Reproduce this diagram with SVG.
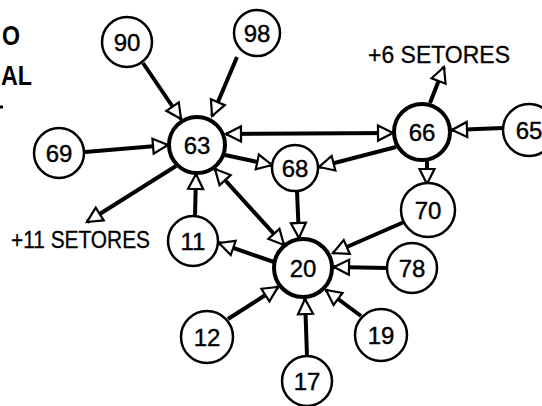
<svg xmlns="http://www.w3.org/2000/svg" width="542" height="406" viewBox="0 0 542 406">
<style>
  .n circle { fill: #fff; stroke: #000; stroke-width: 2.5; }
  .n.big circle { stroke-width: 4; }
  .n text { font-family: "Liberation Sans", Arial, sans-serif; font-size: 24px; text-anchor: middle; fill: #000; stroke: #000; stroke-width: 0.4; }
  .lbl { font-family: "Liberation Sans", Arial, sans-serif; font-size: 23px; fill: #000; stroke: #000; stroke-width: 0.3; }
  .cut { font-family: "Liberation Sans", Arial, sans-serif; font-size: 28px; font-weight: bold; fill: #000; }
  #edges line { stroke: #000; stroke-width: 4; stroke-linecap: butt; marker-end: url(#ah); }
  #edges line.bi { marker-start: url(#ahs); }
</style>
<defs>
  <marker id="ah" markerUnits="userSpaceOnUse" markerWidth="20" markerHeight="20" viewBox="-2 -2 20 20" refX="15" refY="7.5" orient="auto">
    <path d="M0,0 L15,7.5 L0,15 Z" fill="#fff" stroke="#000" stroke-width="2.2" stroke-linejoin="miter"/>
  </marker>
  <marker id="ahs" markerUnits="userSpaceOnUse" markerWidth="20" markerHeight="20" viewBox="-2 -2 20 20" refX="15" refY="7.5" orient="auto-start-reverse">
    <path d="M0,0 L15,7.5 L0,15 Z" fill="#fff" stroke="#000" stroke-width="2.2" stroke-linejoin="miter"/>
  </marker>
</defs>
<rect width="542" height="406" fill="#fff"/>

<!-- cut-off text at top left -->
<text class="cut" x="2" y="45" textLength="18" lengthAdjust="spacingAndGlyphs">O</text>
<text class="cut" x="1" y="85" textLength="31" lengthAdjust="spacingAndGlyphs">AL</text>
<line x1="0" y1="107" x2="3" y2="107" stroke="#000" stroke-width="3"/>

<g id="edges">
  <line x1="143" y1="63" x2="181" y2="119"/>
  <line x1="237" y1="57" x2="212" y2="116"/>
  <line x1="85" y1="152" x2="168" y2="145"/>
  <line class="bi" x1="226" y1="134" x2="393" y2="133"/>
  <line x1="225" y1="155" x2="272" y2="165"/>
  <line x1="396" y1="147" x2="319" y2="167"/>
  <line x1="176" y1="166" x2="87" y2="222"/>
  <line x1="195" y1="216" x2="196" y2="174"/>
  <line class="bi" x1="215" y1="169" x2="284" y2="245"/>
  <line x1="297" y1="191" x2="299" y2="238"/>
  <line x1="427" y1="161" x2="427" y2="184"/>
  <line x1="430" y1="103" x2="444" y2="67"/>
  <line x1="503" y1="128" x2="452" y2="130"/>
  <line x1="404" y1="222" x2="333" y2="253"/>
  <line x1="387" y1="268" x2="334" y2="267"/>
  <line x1="274" y1="262" x2="219" y2="243"/>
  <line x1="228" y1="319" x2="278" y2="287"/>
  <line x1="307" y1="356" x2="305" y2="299"/>
  <line x1="361" y1="316" x2="326" y2="290"/>
</g>

<text class="lbl" x="368" y="63" textLength="142" lengthAdjust="spacingAndGlyphs">+6 SETORES</text>
<text class="lbl" x="11" y="248" textLength="139" lengthAdjust="spacingAndGlyphs">+11 SETORES</text>

<g id="n90" class="n"><circle cx="127" cy="42" r="25"/><text x="127" y="51">90</text></g>
<g id="n98" class="n"><circle cx="257" cy="33" r="23"/><text x="257" y="42">98</text></g>
<g id="n63" class="n big"><circle cx="197" cy="145" r="28"/><text x="197" y="154">63</text></g>
<g id="n69" class="n"><circle cx="59" cy="153" r="25"/><text x="59" y="162">69</text></g>
<g id="n66" class="n big"><circle cx="422" cy="132" r="28"/><text x="422" y="141">66</text></g>
<g id="n65" class="n"><circle cx="529" cy="130" r="26"/><text x="529" y="139">65</text></g>
<g id="n68" class="n"><circle cx="295" cy="168" r="23"/><text x="295" y="177">68</text></g>
<g id="n11" class="n"><circle cx="193" cy="241" r="25"/><text x="193" y="250">11</text></g>
<g id="n20" class="n big"><circle cx="303" cy="268" r="29"/><text x="303" y="277">20</text></g>
<g id="n70" class="n"><circle cx="428" cy="210" r="27"/><text x="428" y="219">70</text></g>
<g id="n78" class="n"><circle cx="412" cy="268" r="25"/><text x="412" y="277">78</text></g>
<g id="n12" class="n"><circle cx="207" cy="337" r="26"/><text x="207" y="346">12</text></g>
<g id="n19" class="n"><circle cx="381" cy="335" r="26"/><text x="381" y="344">19</text></g>
<g id="n17" class="n"><circle cx="307" cy="381" r="25"/><text x="307" y="390">17</text></g>
</svg>
